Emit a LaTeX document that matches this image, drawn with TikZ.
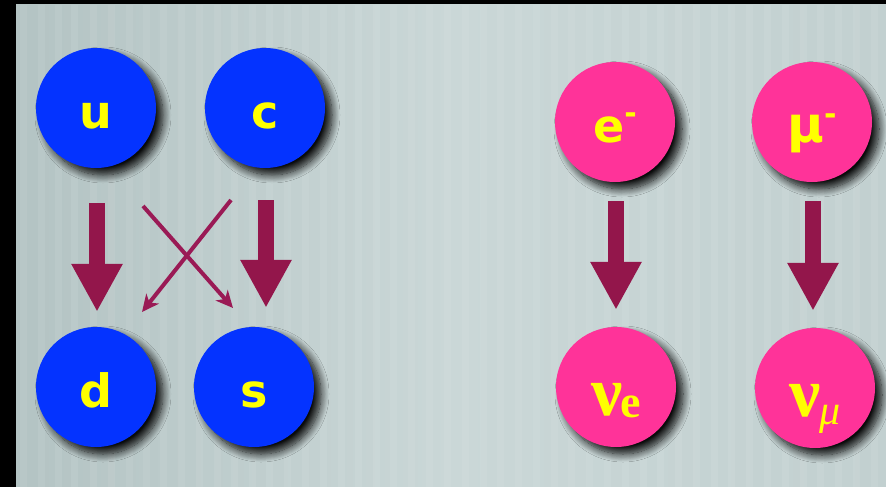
\documentclass[tikz,border=0pt]{standalone}
\usepackage{fontspec}
\setmainfont{DejaVu Sans}
\newfontfamily\serifbold{Liberation Serif}
\usetikzlibrary{arrows.meta,calc,shadows.blur}
\definecolor{bgA}{HTML}{B3C3C3}
\definecolor{bgB}{HTML}{CAD7D7}
\definecolor{bgC}{HTML}{C2D0D0}
\definecolor{quarkblue}{HTML}{0433FF}
\definecolor{leptonpink}{HTML}{FF3399}
\definecolor{arrowred}{HTML}{93164B}
\definecolor{thinred}{HTML}{9A1A55}
\definecolor{txtyellow}{HTML}{FFFF00}
\tikzset{
  particle/.style={circle, minimum size=120pt, inner sep=0pt, text=txtyellow,
    font=\fontsize{46}{50}\selectfont\bfseries, text height=40pt, text depth=0pt,
    blur shadow={shadow xshift=7pt, shadow yshift=-7pt, shadow blur steps=12,
      shadow blur radius=8pt, shadow opacity=95}},
  quark/.style={particle, fill=quarkblue},
  lepton/.style={particle, fill=leptonpink},
  nulepton/.style={lepton, text height=56pt, text depth=0pt},
  fatarrow/.style={draw=arrowred, line width=16pt,
    -{Triangle[length=48pt, width=48pt]}},
  thinarrow/.style={draw=thinred, line width=4pt,
    -{Stealth[length=17pt, width=16pt, inset=5pt]}},
}
\begin{document}
\begin{tikzpicture}[x=1pt,y=-1pt]
\useasboundingbox (0,0) rectangle (886,487);
% background
\fill[black] (0,0) rectangle (886,487);
\shade[left color=bgA, right color=bgB] (16,5) rectangle (450,487);
\shade[left color=bgB, right color=bgC] (450,5) rectangle (886,487);
\foreach \x in {20,38,55,71,90,108,126,143,160,178,196,214,231,249,266,284,302,320,338,355,373,390,408,426,444,462,480,497,515,533,551,568,586,604,622,640,657,675,693,711,728,746,764,782,800,817,835,853,871}{
  \fill[white, opacity=0.07] (\x,5) rectangle ++(7,482);
}
% nodes
\node[quark] (u) at (96,108) {u};
\node[quark] (c) at (265,108) {c};
\node[quark] (d) at (96,387) {d};
\node[quark] (s) at (254,387) {s};
\node[lepton] (e) at (615,122) {e\raisebox{0.40em}{\fontsize{30}{30}\selectfont -}};
\node[lepton] (mu) at (812,122) {\fontsize{50}{50}\selectfont μ\raisebox{0.36em}{\fontsize{30}{30}\selectfont -}};
\node[nulepton] (nue) at (616,387) {\serifbold\bfseries\fontsize{70}{70}\selectfont ν\kern-2pt\raisebox{-2pt}{\fontsize{46}{46}\selectfont e}};
\node[nulepton] (numu) at (815,388) {\serifbold\bfseries\fontsize{70}{70}\selectfont ν\kern-2pt\raisebox{-8pt}{\mdseries\itshape\fontsize{42}{42}\selectfont μ}};
% arrows
\draw[fatarrow] ($(u.south)+(1,35)$) -- ($(d.north)+(1,-15)$);
\draw[fatarrow] ($(c.south)+(1,32)$) -- ($(c.south |- s.north)+(1,-19)$);
\draw[fatarrow] ($(e.south)+(1,19)$) -- ($(nue.north)+(0,-17)$);
\draw[fatarrow] ($(mu.south)+(1,19)$) -- ($(numu.north)+(-2,-17)$);
\draw[thinarrow] ($(u)+(47,98)$) -- ($(s)+(-21,-79)$);
\draw[thinarrow] ($(c)+(-34,92)$) -- ($(d)+(46,-75)$);
\end{tikzpicture}
\end{document}
